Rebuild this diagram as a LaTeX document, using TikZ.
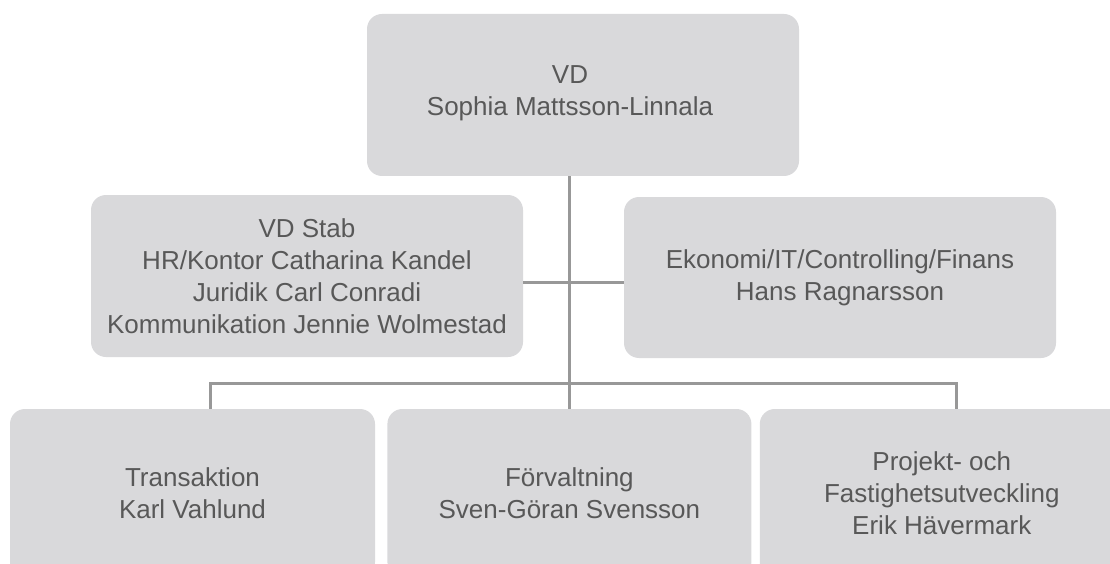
\documentclass[tikz,border=0pt]{standalone}
\usepackage{fontspec}
\setmainfont{Liberation Sans}
\usepackage{xcolor}
\usetikzlibrary{positioning}
\definecolor{boxgray}{RGB}{217,217,219}
\definecolor{linegray}{RGB}{152,152,152}
\definecolor{textgray}{RGB}{88,88,88}
\begin{document}
\begin{tikzpicture}[x=1pt,y=-1pt,
unit/.style={rounded corners=15pt,fill=boxgray,text=textgray,align=center,inner sep=0pt,
  font=\fontsize{26}{32}\selectfont},
link/.style={draw=linegray,line width=3pt}]
\path[use as bounding box,clip](0,0)rectangle(1110,564);
\node[unit,minimum width=432pt,minimum height=162pt](vd)at(583,95){};
\node[text=textgray,align=center,font=\fontsize{26}{32}\selectfont](vdname)at([xshift=-13pt,yshift=2pt]vd.center){VD\\Sophia Mattsson-Linnala};
\node[unit,minimum width=432pt,minimum height=162pt](stab)at(307,276){VD Stab\\HR/Kontor Catharina Kandel\\Juridik Carl Conradi\\Kommunikation Jennie Wolmestad};
\node[unit,minimum width=432pt,minimum height=161pt](ekon)at(840,277.5){Ekonomi/IT/Controlling/Finans\\Hans Ragnarsson};
\node[unit,minimum width=365pt,minimum height=168pt](trans)at(192.5,493){Transaktion\\Karl Vahlund};
\node[unit,minimum width=364pt,minimum height=168pt,right=12pt of trans](forv){F\"orvaltning\\Sven-G\"oran Svensson};
\node[unit,minimum width=364pt,minimum height=168pt,right=8pt of forv](proj){Projekt- och\\Fastighetsutveckling\\Erik H\"avermark};
\coordinate(hub)at(569,282);
\coordinate(split)at(569,383);
\draw[link](forv.north|-vd.south)--(forv.north);
\draw[link](hub-|stab.east)--(hub-|ekon.west);
\draw[link]([xshift=17.5pt]trans.north)|-(split)-|([xshift=15pt]proj.north);
\end{tikzpicture}
\end{document}
